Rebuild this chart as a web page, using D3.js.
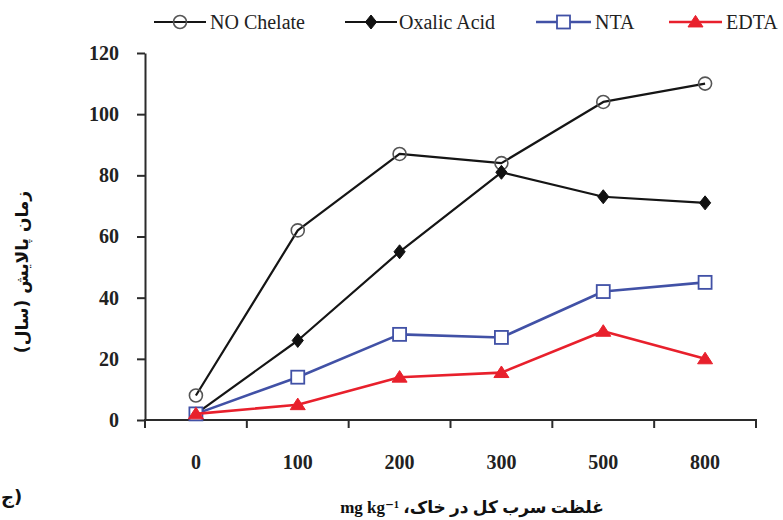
<!DOCTYPE html>
<html>
<head>
<meta charset="utf-8">
<script src="https://cdn.jsdelivr.net/npm/d3@7"></script>
<style>
  html, body { margin: 0; padding: 0; background: #fff; }
  svg { display: block; }
  text { font-family: 'Liberation Serif', 'Times New Roman', 'DejaVu Serif', serif; }
</style>
</head>
<body>
<svg id="chart" width="783" height="520"></svg>
<script>
// ---- data ----
const categories = ["0", "100", "200", "300", "500", "800"];
const yTicks = [0, 20, 40, 60, 80, 100, 120];
const seriesNames = ["NO Chelate", "Oxalic Acid", "NTA", "EDTA"];
const noChelate = [8, 62, 87, 84, 104, 110];
const oxalicAcid = [2, 26, 55, 81, 73, 71];
const nta = [2, 14, 28, 27, 42, 45];
const edta = [2, 5, 14, 15.5, 29, 20];
const xTitle = "غلظت سرب کل در خاک، mg kg⁻¹";
const yTitle = "زمان پالایش (سال)";
const panelLabel = "ج)";

// ---- styles ----
const styles = [
  { name: seriesNames[0], values: noChelate, line: "#151515", width: 2.2, marker: "circle" },
  { name: seriesNames[1], values: oxalicAcid, line: "#151515", width: 2.2, marker: "diamond" },
  { name: seriesNames[2], values: nta, line: "#4151a6", width: 2.6, marker: "square" },
  { name: seriesNames[3], values: edta, line: "#e8202c", width: 2.6, marker: "triangle" }
];

const svg = d3.select("#chart");
const mLeft = 145, mRight = 756, mTop = 53, mBottom = 420;

const x = d3.scaleBand().domain(categories).range([mLeft, mRight]).padding(0);
const y = d3.scaleLinear().domain([0, 120]).range([mBottom, mTop]);

const axisColor = "#2b2b2b";

// y axis
const yAxis = svg.append("g")
  .attr("transform", `translate(${mLeft},0)`)
  .call(d3.axisLeft(y).tickValues(yTicks).tickSize(8).tickSizeOuter(0).tickPadding(18));
yAxis.select(".domain").attr("stroke", axisColor).attr("stroke-width", 2);
yAxis.selectAll(".tick line").attr("stroke", axisColor).attr("stroke-width", 2);
yAxis.selectAll(".tick text")
  .attr("fill", "#222").attr("font-size", 20).attr("font-weight", "bold")
  .style("font-family", "'Liberation Serif', serif");

// x axis: labels at band centres, tick marks at band boundaries
const xAxis = svg.append("g")
  .attr("transform", `translate(0,${mBottom})`)
  .call(d3.axisBottom(x).tickSize(0).tickSizeOuter(0).tickPadding(35));
xAxis.select(".domain").remove();
xAxis.selectAll(".tick text")
  .attr("fill", "#222").attr("font-size", 20).attr("font-weight", "bold")
  .style("font-family", "'Liberation Serif', serif");

svg.append("line")
  .attr("x1", x.range()[0] - 1).attr("x2", x.range()[1] + 1)
  .attr("y1", y(0)).attr("y2", y(0))
  .attr("stroke", axisColor).attr("stroke-width", 2);

const boundaries = categories.map(c => x(c)).concat([x.range()[1]]);
svg.append("g").selectAll("line").data(boundaries).join("line")
  .attr("x1", d => d).attr("x2", d => d)
  .attr("y1", y(0)).attr("y2", y(0) + 8)
  .attr("stroke", axisColor).attr("stroke-width", 2);

// marker drawing helper
function drawMarker(g, type, cx, cy, s) {
  if (type === "circle") {
    g.append("circle").attr("cx", cx).attr("cy", cy).attr("r", 6.5)
      .attr("fill", "none").attr("stroke", "#555").attr("stroke-width", 1.6);
  } else if (type === "diamond") {
    const r = 7;
    g.append("path").attr("d", `M${cx},${cy - r}L${cx + r * 0.8},${cy}L${cx},${cy + r}L${cx - r * 0.8},${cy}Z`)
      .attr("fill", "#111").attr("stroke", "#111").attr("stroke-width", 1);
  } else if (type === "square") {
    const h = 6.5;
    g.append("rect").attr("x", cx - h).attr("y", cy - h).attr("width", 2 * h).attr("height", 2 * h)
      .attr("fill", "#fff").attr("stroke", s.line).attr("stroke-width", 1.8);
  } else if (type === "triangle") {
    const w = 7.5, h = 11;
    g.append("path").attr("d", `M${cx},${cy - h * 0.6}L${cx + w},${cy + h * 0.45}L${cx - w},${cy + h * 0.45}Z`)
      .attr("fill", s.line).attr("stroke", s.line).attr("stroke-width", 1);
  }
}

// series
const lineGen = d3.line().x((d, i) => x(categories[i]) + x.bandwidth() / 2).y(d => y(d));
styles.forEach(s => {
  const g = svg.append("g");
  g.append("path").attr("d", lineGen(s.values))
    .attr("fill", "none").attr("stroke", s.line).attr("stroke-width", s.width)
    .attr("stroke-linejoin", "round");
  s.values.forEach((v, i) => drawMarker(g, s.marker, x(categories[i]) + x.bandwidth() / 2, y(v), s));
});

// legend
const legendY = 22;
const legendItems = [
  { x1: 154, x2: 206, tx: 210 },
  { x1: 345, x2: 397, tx: 399 },
  { x1: 536, x2: 591, tx: 595 },
  { x1: 669, x2: 722, tx: 726 }
];
styles.forEach((s, i) => {
  const it = legendItems[i];
  const g = svg.append("g");
  g.append("line").attr("x1", it.x1).attr("x2", it.x2).attr("y1", legendY).attr("y2", legendY)
    .attr("stroke", s.line).attr("stroke-width", s.width);
  drawMarker(g, s.marker, (it.x1 + it.x2) / 2, legendY, s);
  g.append("text").attr("x", it.tx).attr("y", legendY + 7)
    .attr("font-size", 20).attr("fill", "#222").text(s.name);
});

// axis titles
svg.append("text")
  .attr("x", 472).attr("y", 513)
  .attr("text-anchor", "middle")
  .attr("direction", "rtl")
  .style("direction", "rtl")
  .style("unicode-bidi", "embed")
  .attr("font-size", 17).attr("font-weight", "bold").attr("fill", "#111")
  .style("font-family", "'Liberation Serif', 'DejaVu Sans', serif")
  .text(xTitle);

svg.append("text")
  .attr("transform", "translate(28,272) rotate(-90)")
  .attr("text-anchor", "middle")
  .attr("direction", "rtl")
  .style("direction", "rtl")
  .attr("font-size", 17).attr("font-weight", "bold").attr("fill", "#111")
  .style("font-family", "'DejaVu Sans', sans-serif")
  .text(yTitle);

svg.append("text")
  .attr("x", 1).attr("y", 503)
  .attr("font-size", 18).attr("font-weight", "bold").attr("fill", "#111")
  .style("font-family", "'DejaVu Sans', sans-serif")
  .text(panelLabel);
</script>
</body>
</html>
